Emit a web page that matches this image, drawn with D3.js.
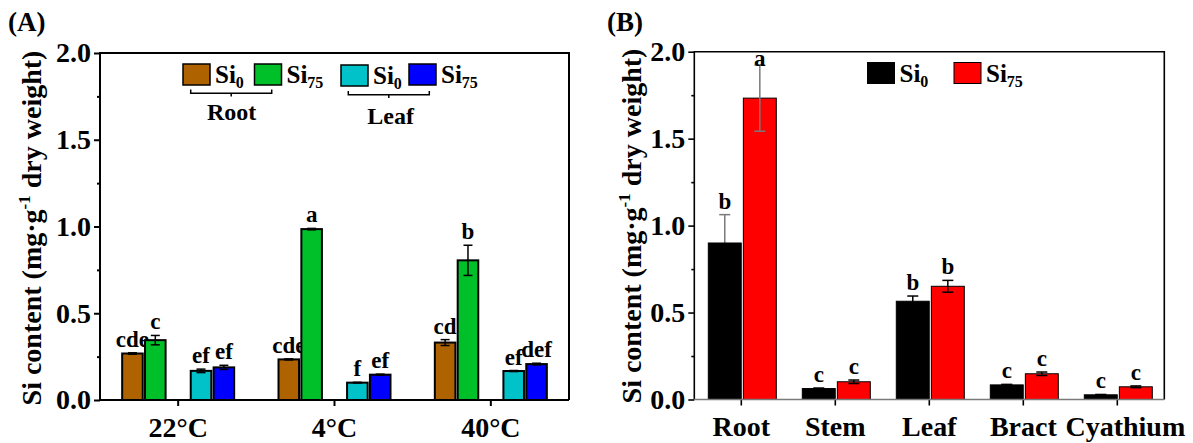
<!DOCTYPE html>
<html>
<head>
<meta charset="utf-8">
<script src="https://cdn.jsdelivr.net/npm/d3@7"></script>
<style>
  body { margin: 0; background: #fff; }
  svg text { font-family: "Liberation Serif", "Times New Roman", serif; font-weight: bold; fill: #000; }
</style>
</head>
<body>
<svg id="chart" width="1193" height="443"></svg>
<script>
// ---- panel A data (temperature treatments) ----
const temps = ["22°C", "4°C", "40°C"];
const rootSi0     = [0.268, 0.234, 0.331];
const rootSi0Err  = [0.004, 0.003, 0.017];
const rootSi75    = [0.345, 0.985, 0.805];
const rootSi75Err = [0.027, 0.004, 0.087];
const leafSi0     = [0.168, 0.100, 0.167];
const leafSi0Err  = [0.010, 0.002, 0.003];
const leafSi75    = [0.188, 0.146, 0.207];
const leafSi75Err = [0.012, 0.003, 0.005];
const rootSi0Sig  = ["cde", "cde", "cd"];
const rootSi75Sig = ["c", "a", "b"];
const leafSi0Sig  = ["ef", "f", "ef"];
const leafSi75Sig = ["ef", "ef", "def"];

// ---- panel B data (organs) ----
const organs = ["Root", "Stem", "Leaf", "Bract", "Cyathium"];
const si0     = [0.900, 0.063, 0.565, 0.084, 0.027];
const si0Err  = [0.163, 0.003, 0.030, 0.003, 0.002];
const si75    = [1.733, 0.102, 0.651, 0.148, 0.073];
const si75Err = [0.190, 0.010, 0.034, 0.010, 0.005];
const si0Sig  = ["b", "c", "b", "c", "c"];
const si75Sig = ["a", "c", "b", "c", "c"];

const yTicks = [0, 0.5, 1.0, 1.5, 2.0];
const yMinor = [0.25, 0.75, 1.25, 1.75];

const svg = d3.select("#chart");

function titleY(g, x, y) {
  let t = g.append("text")
    .attr("transform", "translate(" + x + "," + y + ") rotate(-90)")
    .attr("text-anchor", "middle")
    .attr("font-size", 28);
  t.append("tspan").text("Si content (mg·g");
  t.append("tspan").attr("font-size", 17).attr("dy", -11).text("-1");
  t.append("tspan").attr("dy", 11).text(" dry weight)");
}

function legendItem(g, x, y, color, sub, strokeW) {
  g.append("rect").attr("x", x).attr("y", y).attr("width", 27).attr("height", 21)
    .attr("fill", color).attr("stroke", "#000").attr("stroke-width", strokeW);
  let t = g.append("text").attr("x", x + 32).attr("y", y + 19).attr("font-size", 25);
  t.append("tspan").text("Si");
  t.append("tspan").attr("font-size", 16).attr("dy", 5).text(sub);
}

function drawAxes(g, x, y, left, top, right, bottom, lw, bottomColor) {
  let ya = g.append("g").attr("transform", "translate(" + left + ",0)")
    .call(d3.axisLeft(y).tickValues(yTicks).tickFormat(d3.format(".1f")).tickSize(6).tickPadding(3).tickSizeOuter(0));
  ya.selectAll("text").attr("font-size", 28).attr("font-family", null);
  ya.selectAll("line").attr("stroke-width", lw);
  ya.select(".domain").remove();

  let ym = g.append("g").attr("transform", "translate(" + left + ",0)")
    .call(d3.axisLeft(y).tickValues(yMinor).tickFormat("").tickSize(3));
  ym.selectAll("line").attr("stroke-width", lw);
  ym.select(".domain").remove();

  let xa = g.append("g").attr("transform", "translate(0," + bottom + ")")
    .call(d3.axisBottom(x).tickSize(6).tickPadding(11).tickSizeOuter(0));
  xa.selectAll("text").attr("font-size", 28).attr("font-family", null);
  xa.selectAll("line").attr("stroke-width", lw);
  xa.select(".domain").remove();

  g.append("path")
    .attr("d", "M" + left + "," + bottom + "V" + top + "H" + right + "V" + bottom)
    .attr("fill", "none").attr("stroke", "#000").attr("stroke-width", lw);
  g.append("line")
    .attr("x1", left).attr("x2", right).attr("y1", bottom).attr("y2", bottom)
    .attr("stroke", bottomColor).attr("stroke-width", lw);
  return xa;
}

function errorBars(g, xs, ys, vals, errs, cap, color, lw) {
  vals.forEach(function (v, i) {
    let cx = xs(i);
    let y1 = ys(v + errs[i]), y2 = ys(v - errs[i]);
    g.append("line").attr("x1", cx).attr("x2", cx).attr("y1", y1).attr("y2", y2)
      .attr("stroke", color(i)).attr("stroke-width", lw);
    [y1, y2].forEach(function (yy) {
      g.append("line").attr("x1", cx - cap / 2).attr("x2", cx + cap / 2).attr("y1", yy).attr("y2", yy)
        .attr("stroke", color(i)).attr("stroke-width", lw);
    });
  });
}

function sigLabels(g, xs, ys, vals, errs, sig, top) {
  g.selectAll(null).data(sig).join("text")
    .attr("x", function (d, i) { return xs(i); })
    .attr("y", function (d, i) { return Math.max(ys(vals[i] + errs[i]) - 6, top + 14); })
    .attr("text-anchor", "middle")
    .attr("font-size", 23)
    .text(function (d) { return d; });
}

// ================= Panel A =================
(function () {
  let left = 100, right = 569, top = 53, bottom = 400;
  let g = svg.append("g");
  let x = d3.scaleBand().domain(temps).range([left, right]);
  let y = d3.scaleLinear().domain([0, 2]).range([bottom, top]);
  let sub = d3.scaleBand().domain(["rootSi0", "rootSi75", "gap", "leafSi0", "leafSi75"])
    .range([-56, 56]).paddingInner(0.1);
  let colors = { rootSi0: "#ae6200", rootSi75: "#00c02a", leafSi0: "#00c2c8", leafSi75: "#0000ff" };

  let series = [
    { key: "rootSi0", vals: rootSi0, errs: rootSi0Err, sig: rootSi0Sig },
    { key: "rootSi75", vals: rootSi75, errs: rootSi75Err, sig: rootSi75Sig },
    { key: "leafSi0", vals: leafSi0, errs: leafSi0Err, sig: leafSi0Sig },
    { key: "leafSi75", vals: leafSi75, errs: leafSi75Err, sig: leafSi75Sig }
  ];

  g.append("text").attr("x", 8).attr("y", 31).attr("font-size", 27).text("(A)");

  series.forEach(function (s) {
    let cx = function (i) { return x(temps[i]) + x.bandwidth() / 2 + sub(s.key) + sub.bandwidth() / 2; };
    g.selectAll(null).data(s.vals).join("rect")
      .attr("x", function (d, i) { return cx(i) - sub.bandwidth() / 2; })
      .attr("y", function (d) { return y(d); })
      .attr("width", sub.bandwidth())
      .attr("height", function (d) { return y(0) - y(d); })
      .attr("fill", colors[s.key])
      .attr("stroke", "#000").attr("stroke-width", 2);
    errorBars(g, cx, y, s.vals, s.errs, 9, function () { return "#000"; }, 1.5);
    sigLabels(g, cx, y, s.vals, s.errs, s.sig, top);
  });

  drawAxes(g, x, y, left, top, right, bottom, 2, "#000");
  titleY(g, 41, 228);

  // legend
  legendItem(g, 183, 64, colors.rootSi0, "0", 1.5);
  legendItem(g, 254.5, 64, colors.rootSi75, "75", 1.5);
  legendItem(g, 341, 65, colors.leafSi0, "0", 1.5);
  legendItem(g, 409, 64, colors.leafSi75, "75", 1.5);
  g.append("path").attr("d", "M190.7,89.5V93.3H271.7V89.5M231.2,93.3V96.5")
    .attr("fill", "none").attr("stroke", "#000").attr("stroke-width", 1.5);
  g.append("path").attr("d", "M348.3,91V94.8H429.3V91M388.8,94.8V98")
    .attr("fill", "none").attr("stroke", "#000").attr("stroke-width", 1.5);
  g.append("text").attr("x", 231.7).attr("y", 120).attr("text-anchor", "middle").attr("font-size", 24).text("Root");
  g.append("text").attr("x", 390.7).attr("y", 124).attr("text-anchor", "middle").attr("font-size", 24).text("Leaf");
})();

// ================= Panel B =================
(function () {
  let left = 694.3, right = 1164.3, top = 51.7, bottom = 399.5;
  let g = svg.append("g");
  let x = d3.scaleBand().domain(organs).range([left, right]);
  let y = d3.scaleLinear().domain([0, 2]).range([bottom, top]);
  let sub = d3.scaleBand().domain(["si0", "si75"]).range([-33, 35]).paddingInner(0.06);
  let colors = { si0: "#000000", si75: "#ff0000" };
  let errColor = function (i) { return organs[i] === "Root" ? "#7a7a7a" : "#000"; };

  let series = [
    { key: "si0", vals: si0, errs: si0Err, sig: si0Sig, errFirst: true },
    { key: "si75", vals: si75, errs: si75Err, sig: si75Sig, errFirst: false }
  ];

  g.append("text").attr("x", 607).attr("y", 31).attr("font-size", 27).text("(B)");

  let errLayer = g.append("g");
  let barLayer = g.append("g");
  let topLayer = g.append("g");

  series.forEach(function (s) {
    let cx = function (i) { return x(organs[i]) + x.bandwidth() / 2 + sub(s.key) + sub.bandwidth() / 2; };
    barLayer.selectAll(null).data(s.vals).join("rect")
      .attr("x", function (d, i) { return cx(i) - sub.bandwidth() / 2; })
      .attr("y", function (d) { return y(d); })
      .attr("width", sub.bandwidth())
      .attr("height", function (d) { return y(0) - y(d); })
      .attr("fill", colors[s.key])
      .attr("stroke", "#000").attr("stroke-width", 1);
    errorBars(s.errFirst ? errLayer : topLayer, cx, y, s.vals, s.errs, 11, errColor, 1.5);
    sigLabels(topLayer, cx, y, s.vals, s.errs, s.sig, top);
  });

  let xa = drawAxes(g, x, y, left, top, right, bottom, 1.6, "#7a7a7a");
  // last label sits a little right of its tick in the original
  xa.selectAll("text").filter(function (d) { return d === "Cyathium"; }).attr("dx", 8);
  titleY(g, 641, 226);

  legendItem(g, 867.5, 62.5, colors.si0, "0", 1);
  legendItem(g, 954, 62.5, colors.si75, "75", 1);
})();
</script>
</body>
</html>
